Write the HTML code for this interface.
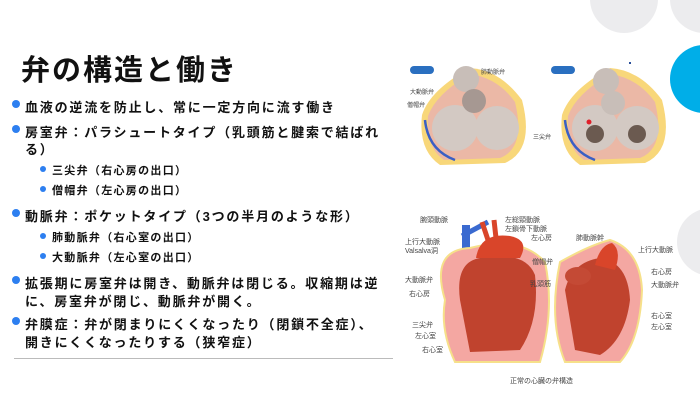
<!DOCTYPE html>
<html><head><meta charset="utf-8"><style>
*{margin:0;padding:0}
body{width:700px;height:402px;background:#fff;position:relative;overflow:hidden;font-family:"Liberation Sans","Noto Sans CJK JP",sans-serif;color:#111}
.t{position:absolute;white-space:nowrap;font-weight:bold}
.b{font-size:13px;letter-spacing:1.8px;left:25px}
.s{font-size:11px;letter-spacing:1.3px;left:52px}
.d{position:absolute;border-radius:50%;background:#2d7ff0}
.c{position:absolute;border-radius:50%}
.l{position:absolute;font-size:6px;color:#444;white-space:nowrap}
</style></head><body>
<div class="c" style="left:590px;top:-35px;width:68px;height:68px;background:#ececee"></div>
<div class="c" style="left:670px;top:-35px;width:68px;height:68px;background:#ececee"></div>
<div class="c" style="left:670px;top:45px;width:68px;height:68px;background:#00aee8"></div>
<div class="c" style="left:677px;top:208px;width:68px;height:68px;background:#ececee"></div>

<div class="t" style="left:21px;top:47px;font-size:29px;letter-spacing:2px">弁の構造と働き</div>

<div class="d" style="left:12px;top:100px;width:8px;height:8px"></div>
<div class="t b" style="top:97px">血液の逆流を防止し、常に一定方向に流す働き</div>
<div class="d" style="left:12px;top:125px;width:8px;height:8px"></div>
<div class="t b" style="top:122px">房室弁：パラシュートタイプ（乳頭筋と腱索で結ばれ</div>
<div class="t b" style="top:139px">る）</div>
<div class="d" style="left:40px;top:166px;width:6px;height:6px"></div>
<div class="t s" style="top:162px">三尖弁（右心房の出口）</div>
<div class="d" style="left:40px;top:186px;width:6px;height:6px"></div>
<div class="t s" style="top:182px">僧帽弁（左心房の出口）</div>
<div class="d" style="left:12px;top:209px;width:8px;height:8px"></div>
<div class="t b" style="top:206px">動脈弁：ポケットタイプ（3つの半月のような形）</div>
<div class="d" style="left:40px;top:233px;width:6px;height:6px"></div>
<div class="t s" style="top:229px">肺動脈弁（右心室の出口）</div>
<div class="d" style="left:40px;top:253px;width:6px;height:6px"></div>
<div class="t s" style="top:249px">大動脈弁（左心室の出口）</div>
<div class="d" style="left:12px;top:276px;width:8px;height:8px"></div>
<div class="t b" style="top:273px">拡張期に房室弁は開き、動脈弁は閉じる。収縮期は逆</div>
<div class="t b" style="top:291px">に、房室弁が閉じ、動脈弁が開く。</div>
<div class="d" style="left:12px;top:317px;width:8px;height:8px"></div>
<div class="t b" style="top:314px">弁膜症：弁が閉まりにくくなったり（閉鎖不全症）、</div>
<div class="t b" style="top:332px">開きにくくなったりする（狭窄症）</div>
<div style="position:absolute;left:14px;top:358px;width:379px;height:1px;background:#bbb"></div>

<svg style="position:absolute;left:0;top:0" width="700" height="402">
<g>
<rect x="410" y="66" width="24" height="8" rx="4" fill="#2a6fc0"/>
<rect x="551" y="66" width="24" height="8" rx="4" fill="#2a6fc0"/>
<path d="M470 68 Q500 70 522 100 Q535 150 505 163 L440 165 Q418 150 422 115 Q430 90 470 68Z" fill="#f8d77a"/>
<path d="M470 74 Q498 78 515 102 Q526 148 500 158 L444 160 Q426 148 428 116 Q436 94 470 74Z" fill="#ebb8a6"/>
<circle cx="455" cy="128" r="23" fill="#d3c9c3"/><circle cx="497" cy="128" r="22" fill="#d3c9c3"/>
<circle cx="466" cy="79" r="13" fill="#c8beb8"/><circle cx="474" cy="101" r="12" fill="#a69892"/>
<path d="M425 120 Q428 150 455 160" stroke="#3b5fc4" stroke-width="2.5" fill="none"/>
<path d="M610 68 Q640 70 662 100 Q675 150 645 163 L580 165 Q558 150 562 115 Q570 90 610 68Z" fill="#f8d77a"/>
<path d="M610 74 Q638 78 655 102 Q666 148 640 158 L584 160 Q566 148 568 116 Q576 94 610 74Z" fill="#ebb8a6"/>
<circle cx="595" cy="128" r="23" fill="#d3c9c3"/><circle cx="637" cy="128" r="22" fill="#d3c9c3"/>
<circle cx="595" cy="134" r="9" fill="#6b5a50"/><circle cx="637" cy="134" r="9" fill="#6b5a50"/>
<circle cx="606" cy="81" r="13" fill="#c8beb8"/><circle cx="613" cy="103" r="12" fill="#c8beb8"/>
<circle cx="589" cy="122" r="2.5" fill="#e0202a"/>
<path d="M565 120 Q568 150 595 160" stroke="#3b5fc4" stroke-width="2.5" fill="none"/>
<rect x="462" y="225" width="8" height="135" fill="#3a6ad0"/>
<path d="M462 236 L488 222" stroke="#3a6ad0" stroke-width="5"/>
<path d="M488 240 L482 222 M496 238 L494 220" stroke="#d9452a" stroke-width="5"/>
<path d="M445 300 Q430 250 470 248 Q520 235 545 262 Q555 310 540 362 L455 362 Q440 330 445 300Z" fill="#f4a7a2" stroke="#f6e08a" stroke-width="2"/>
<path d="M460 300 Q455 262 480 258 Q525 250 535 275 Q540 320 520 350 L470 352 Z" fill="#c0432e"/>
<path d="M476 258 Q480 232 510 236 Q530 240 520 258Z" fill="#d9452a"/>
<path d="M560 262 Q590 245 610 240 Q640 250 642 290 Q640 340 620 362 L565 362 Q548 320 560 262Z" fill="#f4a7a2" stroke="#f6e08a" stroke-width="2"/>
<path d="M565 290 Q572 262 600 258 Q628 262 630 300 Q625 340 600 355 L575 350Z" fill="#c0432e"/>
<path d="M595 265 Q600 245 612 243 Q622 250 615 270Z" fill="#d9452a"/>
<ellipse cx="578" cy="276" rx="13" ry="9" fill="#c44a35"/>
<rect x="629" y="62" width="2" height="2" fill="#2a4f9a"/>
</g>
</svg>
<div class="l" style="left:481px;top:67px">肺動脈弁</div>
<div class="l" style="left:410px;top:87px">大動脈弁</div>
<div class="l" style="left:407px;top:100px">僧帽弁</div>
<div class="l" style="left:533px;top:132px">三尖弁</div>
<div class="l" style="left:420px;top:215px;font-size:7px">腕頭動脈</div>
<div class="l" style="left:505px;top:215px;font-size:7px">左総頸動脈</div>
<div class="l" style="left:505px;top:224px;font-size:7px">左鎖骨下動脈</div>
<div class="l" style="left:531px;top:233px;font-size:7px">左心房</div>
<div class="l" style="left:405px;top:237px;font-size:7px">上行大動脈</div>
<div class="l" style="left:405px;top:246px;font-size:7px">Valsalva洞</div>
<div class="l" style="left:576px;top:233px;font-size:7px">肺動脈幹</div>
<div class="l" style="left:638px;top:245px;font-size:7px">上行大動脈</div>
<div class="l" style="left:532px;top:257px;font-size:7px">僧帽弁</div>
<div class="l" style="left:651px;top:267px;font-size:7px">右心房</div>
<div class="l" style="left:405px;top:275px;font-size:7px">大動脈弁</div>
<div class="l" style="left:530px;top:279px;font-size:7px">乳頭筋</div>
<div class="l" style="left:651px;top:280px;font-size:7px">大動脈弁</div>
<div class="l" style="left:409px;top:289px;font-size:7px">右心房</div>
<div class="l" style="left:651px;top:311px;font-size:7px">右心室</div>
<div class="l" style="left:412px;top:320px;font-size:7px">三尖弁</div>
<div class="l" style="left:651px;top:322px;font-size:7px">左心室</div>
<div class="l" style="left:415px;top:331px;font-size:7px">左心室</div>
<div class="l" style="left:422px;top:345px;font-size:7px">右心室</div>
<div class="l" style="left:510px;top:376px;font-size:7px">正常の心臓の弁構造</div>
</body></html>
